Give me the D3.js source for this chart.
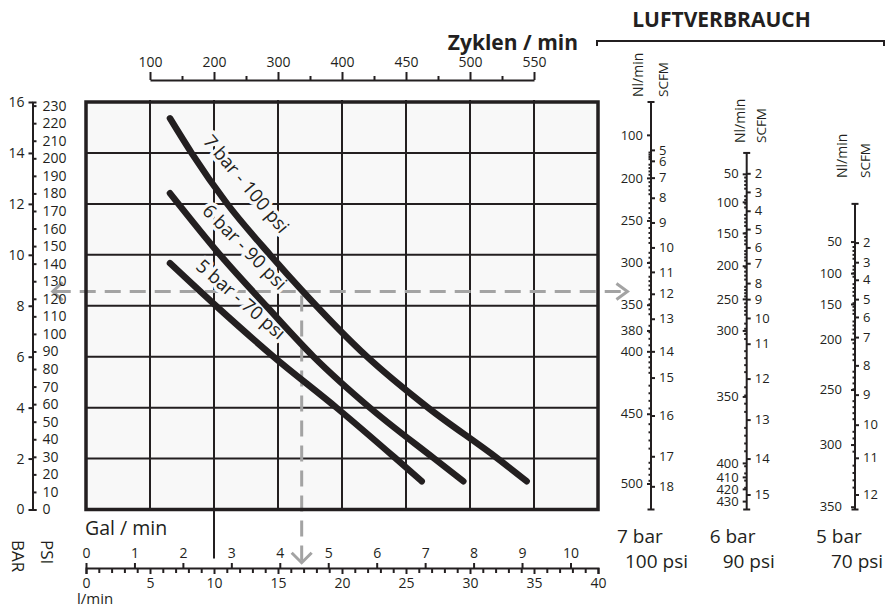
<!DOCTYPE html>
<html><head><meta charset="utf-8">
<script src="https://cdn.jsdelivr.net/npm/d3@7"></script>
<style>
body{margin:0;background:#fff;}
text{font-family:"Open Sans",sans-serif;}
</style>
</head><body>
<svg id="c" width="885" height="608"></svg>
<script>
// ---------- DATA ----------
const barTicks = [0,2,4,6,8,10,12,14,16];
const psiTicks = [0,10,20,30,40,50,60,70,80,90,100,110,120,130,140,150,160,170,180,190,200,210,220,230];
const lminTicks = [0,5,10,15,20,25,30,35,40];
const galTicks = [0,1,2,3,4,5,6,7,8,9,10];
const cycleTicks = [100,200,300,400,450,500,550];
const cycleMinor = [150,250,350,425,475,525];
const cycleKnots = [100,400,550];
const cycleKnotFlow = [5,20,35];

const seriesNames = ["7 bar - 100 psi","6 bar - 90 psi","5 bar - 70 psi"];
const flow7 = [6.56,8.26,10.99,14.38,16.95,21.93,26.74,32.09,34.43];
const bar7  = [15.36,13.99,12.03,10.0,8.56,6.01,3.99,2.03,1.11];
const flow6 = [6.56,10.47,14.12,17.76,22.19,27.13,29.48];
const bar6  = [12.42,10.0,7.97,6.01,3.99,2.03,1.11];
const flow5 = [6.56,10.21,14.63,19.59,24.14,26.23];
const bar5  = [9.67,7.97,6.01,3.99,2.03,1.11];

// example reading (dashed arrows)
const exampleFlow = 16.85, examplePressure = 8.56;

// air consumption scales (value -> equivalent bar height on chart)
const nl7 = [100,200,250,300,350,380,400,450,500];
const nl7Bar = [14.71,13.02,11.35,9.70,8.04,7.03,6.21,3.76,1.02];
const scfm7 = [5,6,7,8,9,10,11,12,13,14,15,16,17,18];
const scfm7Bar = [14.12,13.69,13.03,12.24,11.27,10.29,9.33,8.47,7.49,6.21,5.18,3.69,2.09,0.91];
const nl6 = [50,100,150,200,250,300,350,400,410,420,430];
const nl6Bar = [13.18,12.08,10.86,9.57,8.27,7.03,4.44,1.83,1.28,0.81,0.33];
const scfm6 = [2,3,4,5,6,7,8,9,10,11,12,13,14,15];
const scfm6Bar = [13.2,12.47,11.73,11.01,10.29,9.67,8.89,8.26,7.52,6.51,5.14,3.53,2.0,0.59];
const nl5 = [50,100,150,200,250,300,350];
const nl5Bar = [10.52,9.28,8.07,6.69,4.71,2.55,0.11];
const scfm5 = [2,3,4,5,6,7,8,9,10,11,12];
const scfm5Bar = [10.48,9.71,9.02,8.26,7.56,6.77,5.66,4.51,3.33,2.03,0.59];
const airBar = ["7 bar","6 bar","5 bar"];
const airPsi = ["100 psi","90 psi","70 psi"];
const airTopBar = [16,14,12];

const LPG = 3.785; // litres per gallon
const PSI_PER_BAR = 14.5038;

// ---------- LAYOUT ----------
const ink = "#231f20", bg = "#f8f8f8", dashCol = "#a3a3a3";
const svg = d3.select("#c");
const x = d3.scaleLinear().domain([0,40]).range([86,598]);
const y = d3.scaleLinear().domain([0,16]).range([509.5,102]);
const psiScale = d3.scaleLinear().domain([0,16*PSI_PER_BAR]).range([y(0),y(16)]);
const galScale = x.copy().domain([0,40/LPG]);
const cyc = d3.scaleLinear().domain(cycleKnots).range(cycleKnotFlow.map(x));

function styleAxis(g, fs){
  g.attr("color",ink);
  g.selectAll("path.domain").attr("stroke-width",2);
  g.selectAll(".tick line").attr("stroke-width",2);
  g.selectAll(".tick text").attr("font-size",fs).attr("font-family","'Open Sans',sans-serif").attr("fill",ink);
}

// plot background
svg.append("rect").attr("x",x(0)).attr("y",y(16)).attr("width",x(40)-x(0)).attr("height",y(0)-y(16)).attr("fill",bg);

// grid
const grid = svg.append("g").attr("stroke",ink).attr("stroke-width",2);
grid.selectAll("line.v").data(lminTicks.slice(1,-1)).join("line").attr("class","v")
  .attr("x1",d=>x(d)).attr("x2",d=>x(d)).attr("y1",y(16)-2).attr("y2",y(0));
grid.selectAll("line.h").data(barTicks.slice(1,-1)).join("line").attr("class","h")
  .attr("x1",x(0)).attr("x2",x(40)).attr("y1",d=>y(d)).attr("y2",d=>y(d));
// extension of 10 l/min line below the chart
grid.append("line").attr("x1",x(10)).attr("x2",x(10)).attr("y1",y(0)).attr("y2",y(0)+49);

// dashed example arrows
const dash = svg.append("g").attr("stroke",dashCol).attr("stroke-width",3).attr("fill","none");
const yE = y(examplePressure), xE = x(exampleFlow);
const xL = x(-2.6), xR = x(42.3), yB = y(-2.09);
dash.append("line").attr("x1",xL+2).attr("x2",xR-2).attr("y1",yE).attr("y2",yE).attr("stroke-dasharray","16,9");
dash.append("line").attr("x1",xE).attr("x2",xE).attr("y1",yE+4).attr("y2",yB-2).attr("stroke-dasharray","16,9");
dash.append("path").attr("d",`M${xL+10},${yE-9}L${xL},${yE}L${xL+10},${yE+9}`);
dash.append("path").attr("d",`M${xR-11},${yE-8}L${xR},${yE}L${xR-11},${yE+8}`);
dash.append("path").attr("d",`M${xE-10},${yB-10}L${xE},${yB}L${xE+10},${yB-10}`);

// curve labels (with halo)
const labelFlow = [12.52,12.4,12.1], labelBar = [12.78,10.31,8.25], labelAngle = [50,45.5,41];
svg.append("g").selectAll("text").data(seriesNames).join("text")
  .attr("transform",(d,i)=>`translate(${x(labelFlow[i])},${y(labelBar[i])}) rotate(${labelAngle[i]})`)
  .attr("text-anchor","middle").attr("dy","0.35em").attr("font-size",18.5).attr("fill",ink)
  .attr("stroke",bg).attr("stroke-width",7).attr("paint-order","stroke").attr("stroke-linejoin","round")
  .text(d=>d);

// plot border
svg.append("rect").attr("x",x(0)).attr("y",y(16)).attr("width",x(40)-x(0)).attr("height",y(0)-y(16))
  .attr("fill","none").attr("stroke",ink).attr("stroke-width",3.5);

// curves
const series = [[flow7,bar7],[flow6,bar6],[flow5,bar5]];
const line = d3.line().x(d=>x(d[0])).y(d=>y(d[1])).curve(d3.curveMonotoneX);
svg.append("g").selectAll("path").data(series).join("path")
  .attr("d",s=>line(s[0].map((f,i)=>[f,s[1][i]])))
  .attr("fill","none").attr("stroke",ink).attr("stroke-width",6.5).attr("stroke-linecap","round");

// top cycles axis
const gT = svg.append("g").attr("transform","translate(0,80)")
  .call(d3.axisTop(cyc).tickValues(cycleTicks).tickSize(8).tickSizeOuter(0).tickPadding(5));
styleAxis(gT,14);
const gTm = svg.append("g").attr("transform","translate(0,80)")
  .call(d3.axisTop(cyc).tickValues(cycleMinor).tickSize(4).tickFormat(""));
gTm.select(".domain").remove(); styleAxis(gTm,14);
svg.append("text").attr("x",578).attr("y",50).attr("text-anchor","end").attr("font-size",21)
  .attr("font-weight","bold").attr("fill",ink).text("Zyklen / min");

// left axes
const gBar = svg.append("g").attr("transform","translate(32.5,0)")
  .call(d3.axisLeft(y).tickValues(barTicks).tickSize(4).tickSizeOuter(0).tickPadding(4));
styleAxis(gBar,14);
const gPsi = svg.append("g").attr("transform","translate(32.5,0)")
  .call(d3.axisRight(psiScale).tickValues(psiTicks).tickSize(4).tickSizeOuter(4).tickPadding(6));
styleAxis(gPsi,14);

// bottom axes
const gL = svg.append("g").attr("transform","translate(0,568)")
  .call(d3.axisBottom(x).tickValues(lminTicks).tickSize(6).tickSizeOuter(6).tickPadding(4));
styleAxis(gL,14);
const gLm = svg.append("g").attr("transform","translate(0,568)")
  .call(d3.axisBottom(x).tickValues(d3.range(1,40).filter(v=>v%5)).tickSize(5).tickFormat(""));
gLm.select(".domain").remove(); styleAxis(gLm,14);
const gG = svg.append("g").attr("transform","translate(0,568)")
  .call(d3.axisTop(galScale).tickValues(galTicks).tickSize(5).tickSizeOuter(0).tickPadding(5));
gG.select(".domain").remove(); styleAxis(gG,14);

svg.append("text").attr("x",85).attr("y",535).attr("font-size",19.5).attr("fill",ink).text("Gal / min");
svg.append("text").attr("x",77).attr("y",604).attr("font-size",15).attr("fill",ink).text("l/min");
svg.append("text").attr("transform","translate(41,540) rotate(90)").attr("font-size",17).attr("fill",ink).text("PSI");
svg.append("text").attr("transform","translate(12,540) rotate(90)").attr("font-size",17).attr("fill",ink).text("BAR");

// LUFTVERBRAUCH header
svg.append("text").attr("x",721.5).attr("y",27).attr("text-anchor","middle").attr("font-size",21)
  .attr("font-weight","bold").attr("fill",ink).text("LUFTVERBRAUCH");
svg.append("path").attr("d","M597,46V41H884V46").attr("fill","none").attr("stroke",ink).attr("stroke-width",2);

// air consumption nomograms
const nomo = [
  {ax:651, nl:nl7, nlB:nl7Bar, sc:scfm7, scB:scfm7Bar, nlPad:4, hdrY:97, nlDx:-8, scDx:17, barDx:-34, psiDx:-26},
  {ax:746.7, nl:nl6, nlB:nl6Bar, sc:scfm6, scB:scfm6Bar, nlPad:4, hdrY:143, nlDx:-2, scDx:19, barDx:-37, psiDx:-24},
  {ax:855, nl:nl5, nlB:nl5Bar, sc:scfm5, scB:scfm5Bar, nlPad:9, hdrY:178, nlDx:-8, scDx:15, barDx:-39, psiDx:-24}
];
nomo.forEach((n,i)=>{
  const g = svg.append("g");
  const yTop = y(airTopBar[i]), yBot = y(0);
  g.append("line").attr("x1",n.ax).attr("x2",n.ax).attr("y1",yTop).attr("y2",yBot).attr("stroke",ink).attr("stroke-width",2);
  g.append("line").attr("x1",n.ax-3.5).attr("x2",n.ax+3.5).attr("y1",yTop).attr("y2",yTop).attr("stroke",ink).attr("stroke-width",2);
  g.append("line").attr("x1",n.ax-3.5).attr("x2",n.ax+3.5).attr("y1",yBot).attr("y2",yBot).attr("stroke",ink).attr("stroke-width",2);
  const nlS = d3.scaleLinear().domain(n.nl).range(n.nlB.map(y));
  const scS = d3.scaleLinear().domain(n.sc).range(n.scB.map(y));
  const gn = g.append("g").attr("transform",`translate(${n.ax},0)`)
    .call(d3.axisLeft(nlS).tickValues(n.nl).tickSize(4).tickPadding(n.nlPad));
  gn.select(".domain").remove(); styleAxis(gn,13);
  const gs = g.append("g").attr("transform",`translate(${n.ax},0)`)
    .call(d3.axisRight(scS).tickValues(n.sc).tickSize(4).tickPadding(4));
  gs.select(".domain").remove(); styleAxis(gs,13);
  const minor = d3.range(n.sc[0], n.sc[n.sc.length-1], 0.2).filter(v=>Math.abs(v-Math.round(v))>0.05);
  const gm = g.append("g").attr("transform",`translate(${n.ax},0)`)
    .call(d3.axisLeft(scS).tickValues(minor).tickSize(2.5).tickFormat(""));
  gm.select(".domain").remove(); styleAxis(gm,13);
  g.append("text").attr("transform",`translate(${n.ax+n.nlDx},${n.hdrY}) rotate(-90)`).attr("font-size",14).attr("fill",ink).text("Nl/min");
  g.append("text").attr("transform",`translate(${n.ax+n.scDx},${n.hdrY}) rotate(-90)`).attr("font-size",13.5).attr("fill",ink).text("SCFM");
  g.append("text").attr("x",n.ax+n.barDx).attr("y",543).attr("font-size",19).attr("fill",ink).text(airBar[i]);
  g.append("text").attr("x",n.ax+n.psiDx).attr("y",568).attr("font-size",19).attr("fill",ink).text(airPsi[i]);
});
</script>
</body></html>
